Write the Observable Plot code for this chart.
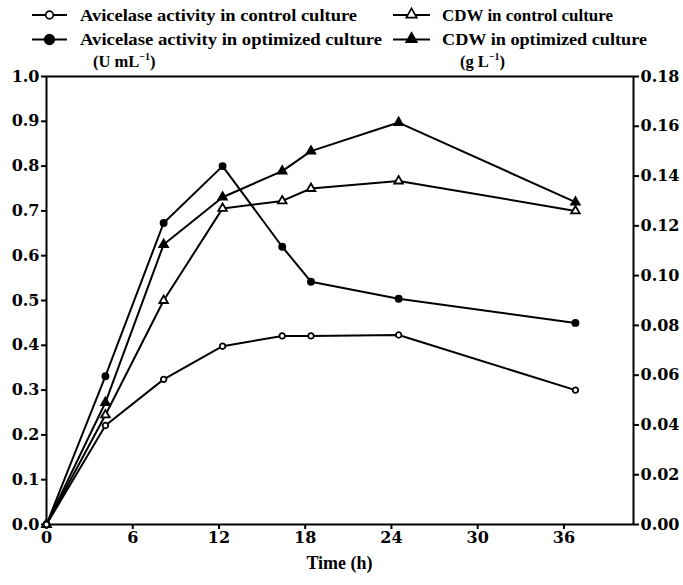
<!DOCTYPE html>
<html><head><meta charset="utf-8">
<script src="https://cdn.jsdelivr.net/npm/d3@7"></script>
<script src="https://cdn.jsdelivr.net/npm/@observablehq/plot@0.6"></script>
<style>
body{margin:0;background:#fff;color:#000}
#wrap{position:relative;width:683px;height:585px}
#legend{position:absolute;left:0;top:0}
#chart svg{display:block}
</style></head><body>
<div id="wrap"><div id="chart"></div><div id="legend"></div></div>
<script>
const times = [0, 4.1, 8.15, 12.25, 16.4, 18.4, 24.5, 36.8];
const avicelaseControl = [0, 0.221, 0.324, 0.398, 0.421, 0.421, 0.423, 0.300];
const avicelaseOptimized = [0, 0.331, 0.673, 0.800, 0.620, 0.542, 0.504, 0.450];
const cdwControl = [0, 0.044, 0.090, 0.127, 0.130, 0.135, 0.138, 0.126];
const cdwOptimized = [0, 0.049, 0.1125, 0.1315, 0.142, 0.150, 0.1615, 0.1295];
const xTicks = [0, 6, 12, 18, 24, 30, 36];
const leftTicks = [0, 0.1, 0.2, 0.3, 0.4, 0.5, 0.6, 0.7, 0.8, 0.9, 1.0];
const rightTicks = [0, 0.02, 0.04, 0.06, 0.08, 0.10, 0.12, 0.14, 0.16, 0.18];
const seriesNames = ["Avicelase activity in control culture", "Avicelase activity in optimized culture", "CDW in control culture", "CDW in optimized culture"];
const leftUnit = ["(U mL", "\u22121", ")"];
const rightUnit = ["(g L", "\u22121", ")"];
const RIGHT_MAX = 0.18;

const series = [
  {name: seriesNames[0], values: avicelaseControl, right: false, symbol: "circle", fill: "white"},
  {name: seriesNames[1], values: avicelaseOptimized, right: false, symbol: "circle", fill: "black"},
  {name: seriesNames[2], values: cdwControl, right: true, symbol: "triangle", fill: "white"},
  {name: seriesNames[3], values: cdwOptimized, right: true, symbol: "triangle", fill: "black"}
];
const rows = series.flatMap(s => times.map((t, i) => ({
  series: s.name, t, y: s.right ? s.values[i] / RIGHT_MAX : s.values[i],
  symbol: s.symbol, fill: s.fill
})));

// Legend (SVG overlay above the plot area)
const textFont = "Liberation Serif, Times New Roman, serif";
const lg = d3.create("svg").attr("width", 683).attr("height", 72)
  .attr("font-family", textFont).attr("font-weight", "bold").attr("font-size", 16.5);
const legendLayout = [
  {x0: 32, x1: 67, tx: 80, cy: 15, w: 277},
  {x0: 32, x1: 67, tx: 80, cy: 39.5, w: 302},
  {x0: 393, x1: 430, tx: 442, cy: 15, w: 171},
  {x0: 393, x1: 430, tx: 442, cy: 39.5, w: 205}
];
series.forEach((s, i) => {
  const L = legendLayout[i];
  const g = lg.append("g");
  g.append("line").attr("x1", L.x0).attr("x2", L.x1).attr("y1", L.cy).attr("y2", L.cy).attr("stroke", "black").attr("stroke-width", 2);
  const mx = (L.x0 + L.x1) / 2;
  if (s.symbol === "circle") {
    g.append("circle").attr("cx", mx).attr("cy", L.cy).attr("r", s.fill === "white" ? 3.8 : 4.8)
      .attr("fill", s.fill).attr("stroke", "black").attr("stroke-width", 1.7);
  } else {
    g.append("path").attr("d", d3.symbol(d3.symbolTriangle, 48)())
      .attr("transform", `translate(${mx},${L.cy - 0.5})`).attr("fill", s.fill).attr("stroke", "black").attr("stroke-width", 1.7);
  }
  g.append("text").attr("x", L.tx).attr("y", L.cy + 5.5)
    .attr("textLength", L.w).attr("lengthAdjust", "spacingAndGlyphs").text(s.name);
});
[[leftUnit, 93, 67], [rightUnit, 460, 67]].forEach(([parts, x, y]) => {
  const t = lg.append("text").attr("x", x).attr("y", y);
  t.append("tspan").text(parts[0]);
  t.append("tspan").attr("dy", -7).attr("font-size", 10).text(parts[1]);
  t.append("tspan").attr("dy", 7).text(parts[2]);
});
document.getElementById("legend").appendChild(lg.node());

const tickFont = "DejaVu Serif, serif";
const chart = Plot.plot({
  width: 683,
  height: 585,
  marginTop: 76,
  marginBottom: 61,
  marginLeft: 46,
  marginRight: 50,
  style: {fontFamily: tickFont, fontWeight: "bold", fontSize: "16px", color: "black", background: "white"},
  x: {domain: [0, 40.84]},
  y: {domain: [0, 1]},
  marks: [
    Plot.frame({stroke: "black", strokeWidth: 2}),
    Plot.axisX({ticks: xTicks, tickSize: 5, tickPadding: 2, strokeWidth: 2, label: null, fill: "black"}),
    Plot.axisY({ticks: leftTicks, tickSize: 5, tickPadding: 2, strokeWidth: 2, tickFormat: d => d.toFixed(1), label: null, fill: "black"}),
    Plot.axisY({anchor: "right", ticks: rightTicks.map(v => v / RIGHT_MAX), tickSize: 5, tickPadding: 2, strokeWidth: 2, tickFormat: d => (d * RIGHT_MAX).toFixed(2), label: null, fill: "black"}),
    Plot.line(rows, {x: "t", y: "y", z: "series", stroke: "black", strokeWidth: 2}),
    Plot.dot(rows, {x: "t", y: "y", symbol: "symbol", fill: "fill", stroke: "black", strokeWidth: 1.8, r: d => d.symbol === "circle" ? (d.fill === "white" ? 5 : 6) : 6.5})
  ]
});
// axis title
d3.select(chart).append("text")
  .attr("x", 46 + (683 - 46 - 50) / 2).attr("y", 569)
  .attr("text-anchor", "middle").attr("font-family", textFont).attr("font-weight", "bold").attr("font-size", 18)
  .attr("fill", "black").text("Time (h)");
document.getElementById("chart").appendChild(chart);
</script>
</body></html>
